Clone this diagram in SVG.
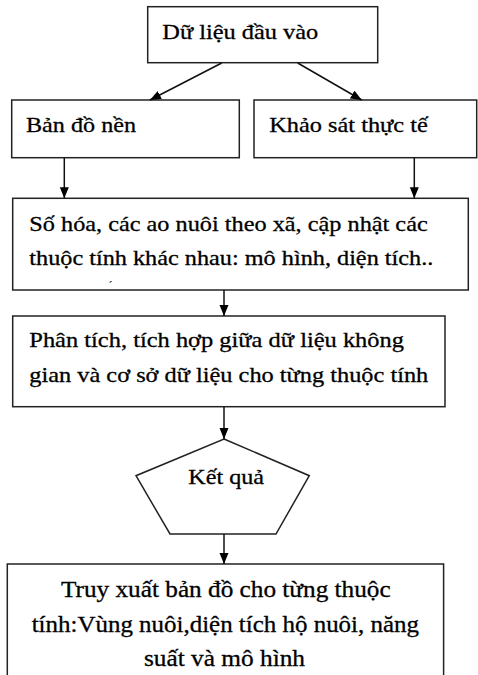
<svg xmlns="http://www.w3.org/2000/svg" width="478" height="675" viewBox="0 0 478 675">
<style>
.box{fill:#fff;stroke:#222;stroke-width:1.5}
.t{font-size:22px;fill:#000;stroke:#000;stroke-width:0.3}
.tb{font-size:23px;fill:#000;stroke:#000;stroke-width:0.3}
.c{stroke:#111;stroke-width:1.5;fill:none;marker-end:url(#ah)}
</style>
<defs>
<marker id="ah" markerUnits="userSpaceOnUse" markerWidth="12" markerHeight="10" refX="11" refY="4.5" orient="auto">
<path d="M0,0 L11,4.5 L0,9 z" fill="#000"/>
</marker>
</defs>
<rect width="478" height="675" fill="#fff"/>
<g font-family="'Liberation Serif', 'DejaVu Serif', serif">
<g id="n1">
<rect class="box" x="147.7" y="6.7" width="230" height="56"/>
<text class="t" x="162.3" y="39.3" textLength="156" lengthAdjust="spacingAndGlyphs">Dữ liệu  đầu vào</text>
</g>
<g id="n2">
<rect class="box" x="11.7" y="100" width="227.6" height="57.7"/>
<text class="t" x="26" y="132.3" textLength="110" lengthAdjust="spacingAndGlyphs">Bản đồ nền</text>
</g>
<g id="n3">
<rect class="box" x="254" y="100" width="222.7" height="57.7"/>
<text class="t" x="269.3" y="132.3" textLength="158.4" lengthAdjust="spacingAndGlyphs">Khảo sát thực tế</text>
</g>
<g id="n4">
<rect class="box" x="12.7" y="198.3" width="455.6" height="91.7"/>
<text class="t" x="29.3" y="231" textLength="398.4" lengthAdjust="spacingAndGlyphs">Số hóa, các  ao nuôi theo xã, cập nhật các</text>
<text class="t" x="29.3" y="265" textLength="404" lengthAdjust="spacingAndGlyphs">thuộc tính khác nhau: mô  hình, diện tích..</text>
<text x="108.5" y="290" font-size="12">´</text>
</g>
<g id="n5">
<rect class="box" x="12.7" y="316" width="432.3" height="90.7"/>
<text class="t" x="29.3" y="346.7" textLength="374.7" lengthAdjust="spacingAndGlyphs">Phân tích, tích hợp giữa  dữ liệu  không</text>
<text class="t" x="29.3" y="381.7" textLength="399" lengthAdjust="spacingAndGlyphs">gian và cơ sở dữ liệu  cho từng thuộc tính</text>
</g>
<g id="n6">
<polygon class="box" points="224,439 309.3,475.7 276,534 170,534 136,475.7"/>
<text class="t" x="188.3" y="484" textLength="75.7" lengthAdjust="spacingAndGlyphs">Kết quả</text>
</g>
<g id="n7">
<rect class="box" x="7.3" y="564" width="436.3" height="115"/>
<text class="tb" x="61" y="597.3" textLength="329.7" lengthAdjust="spacingAndGlyphs">Truy xuất bản đồ cho từng thuộc</text>
<text class="tb" x="31.7" y="632" textLength="387.3" lengthAdjust="spacingAndGlyphs">tính:Vùng nuôi,diện tích hộ nuôi, năng</text>
<text class="tb" x="144" y="666" textLength="161" lengthAdjust="spacingAndGlyphs">suất và mô hình</text>
</g>
</g>
<g id="connectors">
<line class="c" x1="221.7" y1="63" x2="150" y2="100"/>
<line class="c" x1="297.7" y1="63" x2="361.7" y2="100"/>
<line class="c" x1="64.3" y1="157.7" x2="64.3" y2="198.3"/>
<line class="c" x1="414.3" y1="157.7" x2="414.3" y2="198.3"/>
<line class="c" x1="224" y1="290" x2="224" y2="316"/>
<line class="c" x1="224" y1="406.7" x2="224" y2="439"/>
<line class="c" x1="224" y1="534" x2="224" y2="564"/>
</g>
</svg>
